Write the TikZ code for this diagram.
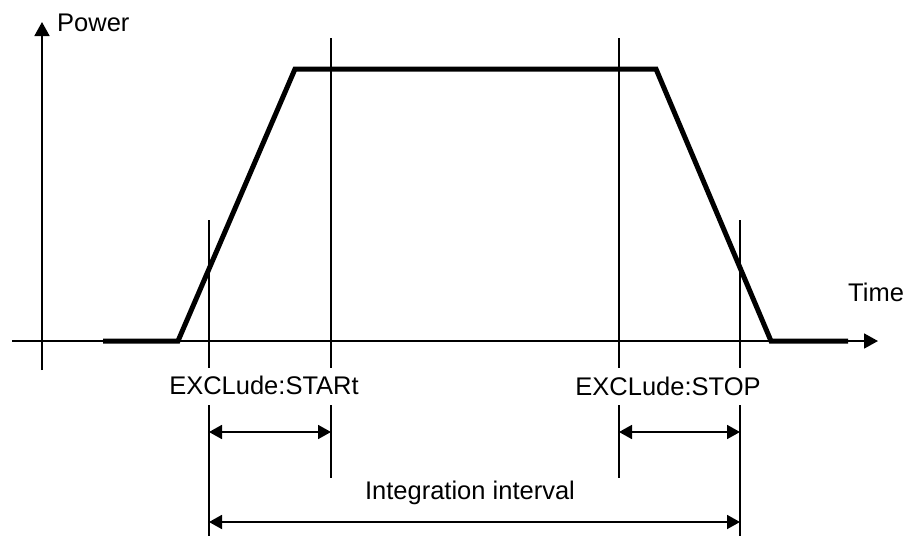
\documentclass[tikz,border=0pt]{standalone}
\usepackage{fontspec}
\setmainfont{Liberation Sans}
\usetikzlibrary{arrows.meta}
\tikzset{
  thinline/.style={line width=1.8pt, line cap=butt},
  thickline/.style={line width=5pt, line join=miter},
  axisarrow/.style={thinline, -{Triangle[length=14pt,width=15pt]}},
  dimarrow/.style={thinline, {Triangle[length=13pt,width=14pt]}-{Triangle[length=13pt,width=14pt]}},
  lbl/.style={inner sep=0pt, font=\fontsize{25.5}{30}\selectfont}
}
\begin{document}
\begin{tikzpicture}[x=1pt,y=-1pt]
\useasboundingbox (0,0) rectangle (907,536);
% axes
\coordinate (yb) at (42,370);
\coordinate (yt) at (42,22);
\coordinate (xl) at (12,341);
\coordinate (xr) at (878,341);
\draw[axisarrow] (yb) -- (yt);
\draw[axisarrow] (xl) -- (xr);
% power curve
\coordinate (p0) at (103,341);
\coordinate (p1) at (178,341);
\coordinate (p2) at (295,69);
\coordinate (p3) at (656,69);
\coordinate (p4) at (771,341);
\coordinate (p5) at (848,341);
\draw[thickline] (p0) -- (p1) -- (p2) -- (p3) -- (p4) -- (p5);
% vertical marker lines (upper parts)
\coordinate (a1) at (209,220); \coordinate (a2) at (209,368);
\coordinate (a3) at (209,405); \coordinate (a4) at (209,536);
\coordinate (b1) at (331,38);  \coordinate (b2) at (331,368);
\coordinate (b3) at (331,405); \coordinate (b4) at (331,478);
\coordinate (c1) at (619,38);  \coordinate (c2) at (619,368);
\coordinate (c3) at (619,405); \coordinate (c4) at (619,478);
\coordinate (d1) at (740,220); \coordinate (d2) at (740,368);
\coordinate (d3) at (740,405); \coordinate (d4) at (740,536);
\draw[thinline] (a1) -- (a2) (a3) -- (a4);
\draw[thinline] (b1) -- (b2) (b3) -- (b4);
\draw[thinline] (c1) -- (c2) (c3) -- (c4);
\draw[thinline] (d1) -- (d2) (d3) -- (d4);
% dimension arrows
\coordinate (s1) at (209,432); \coordinate (s2) at (331,432);
\coordinate (e1) at (619,432); \coordinate (e2) at (740,432);
\coordinate (i1) at (209,522); \coordinate (i2) at (740,522);
\draw[dimarrow] (s1) -- (s2);
\draw[dimarrow] (e1) -- (e2);
\draw[dimarrow] (i1) -- (i2);
% labels
\node[lbl, anchor=base west] (power) at (57,31) {Power};
\node[lbl, anchor=base west] (time) at (848,301) {Time};
\node[lbl, anchor=base] (exstart) at (264,394) {EXCLude:STARt};
\node[lbl, anchor=base] (exstop) at (668,395) {EXCLude:STOP};
\node[lbl, anchor=base] (integ) at (470,499) {Integration interval};
\end{tikzpicture}
\end{document}
